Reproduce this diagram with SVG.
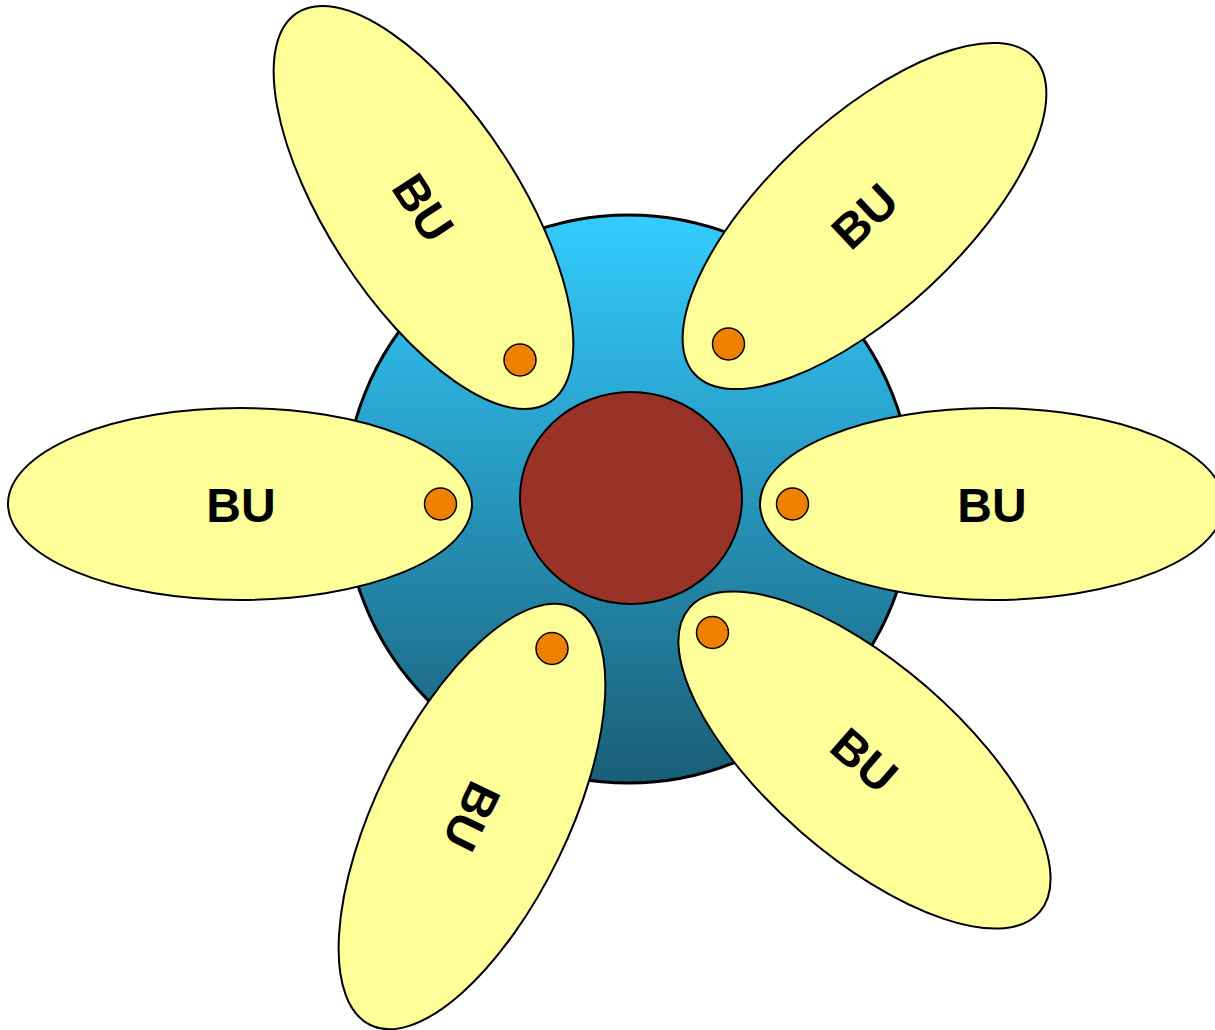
<svg xmlns="http://www.w3.org/2000/svg" width="1215" height="1030" viewBox="0 0 1215 1030">
  <defs>
    <linearGradient id="hubGrad" x1="0" y1="0" x2="0" y2="1">
      <stop offset="0" stop-color="#33CCFF"/>
      <stop offset="1" stop-color="#1A5E77"/>
    </linearGradient>
  </defs>
  <style>
    .petal { fill: #FFFF99; stroke: #000; stroke-width: 2; }
    .dot { fill: #EE8200; stroke: #000; stroke-width: 1.5; }
    .lbl { font-family: "Liberation Sans", Arial, sans-serif; font-weight: bold; font-size: 48px; fill: #000; text-anchor: middle; }
  </style>
  <g id="hub">
    <circle cx="628.5" cy="499" r="284" fill="url(#hubGrad)" stroke="#000" stroke-width="3"/>
  </g>
  <g id="core">
    <ellipse cx="631" cy="498" rx="111" ry="106" fill="#993328" stroke="#000" stroke-width="2"/>
  </g>
  <g id="connectors"></g>
  <g id="bu-left">
    <ellipse class="petal" cx="240" cy="504" rx="232" ry="96"/>
    <circle class="dot" cx="440.5" cy="504" r="16"/>
    <text class="lbl" x="241" y="522">BU</text>
  </g>
  <g id="bu-right">
    <ellipse class="petal" cx="992" cy="504" rx="232" ry="96"/>
    <circle class="dot" cx="792.5" cy="504" r="16"/>
    <text class="lbl" x="992" y="522">BU</text>
  </g>
  <g id="bu-top-left">
    <ellipse class="petal" cx="0" cy="0" rx="232" ry="96" transform="translate(423.5 207.5) rotate(57)"/>
    <circle class="dot" cx="520" cy="360" r="16"/>
    <text class="lbl" x="0" y="17" transform="translate(423.5 207.5) rotate(57)">BU</text>
  </g>
  <g id="bu-top-right">
    <ellipse class="petal" cx="0" cy="0" rx="232" ry="96" transform="translate(864.5 216) rotate(-43)"/>
    <circle class="dot" cx="728.5" cy="344" r="16"/>
    <text class="lbl" x="0" y="17" transform="translate(864.5 216) rotate(-43)">BU</text>
  </g>
  <g id="bu-bottom-right">
    <ellipse class="petal" cx="0" cy="0" rx="232" ry="96" transform="translate(864.5 760) rotate(41)"/>
    <circle class="dot" cx="712.5" cy="632.5" r="16"/>
    <text class="lbl" x="0" y="17" transform="translate(864.5 760) rotate(41)">BU</text>
  </g>
  <g id="bu-bottom-left">
    <ellipse class="petal" cx="0" cy="0" rx="232" ry="96" transform="translate(472 816.5) rotate(-64)"/>
    <circle class="dot" cx="552" cy="648.5" r="16"/>
    <text class="lbl" x="0" y="17" transform="translate(472 816.5) rotate(116)">BU</text>
  </g>
</svg>
